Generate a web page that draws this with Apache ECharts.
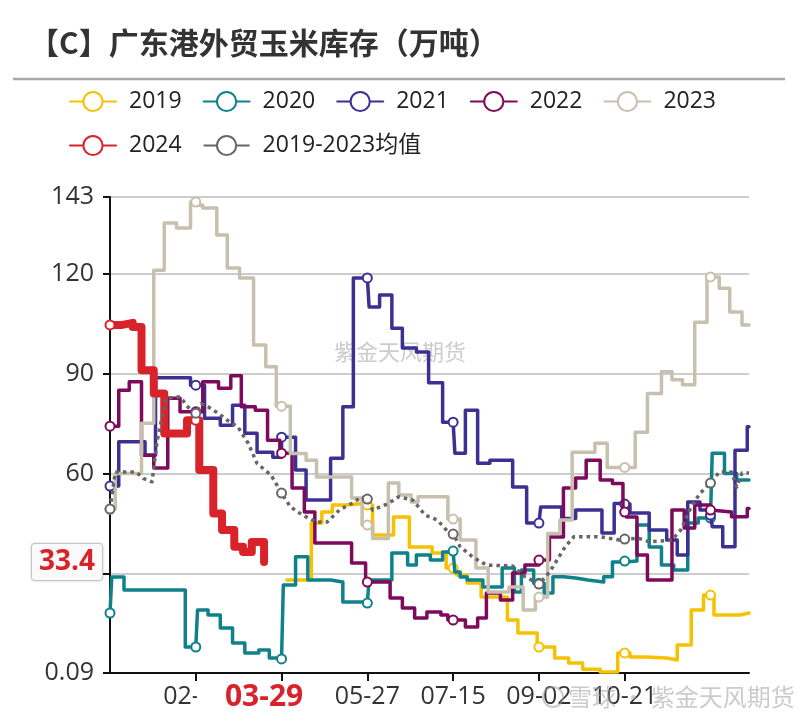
<!DOCTYPE html>
<html><head><meta charset="utf-8">
<script src="https://cdn.jsdelivr.net/npm/echarts@6/dist/echarts.min.js"></script>
<style>html,body{margin:0;padding:0;background:#fff}#c{width:800px;height:722px}</style>
</head><body><div id="c"></div>
<script>
// ---- data (day index of leap year 2024, value in 万吨); step change points ----
const yTicks = [0.09, 30, 60, 90, 120, 143];
const labelDays = [49, 98, 147, 196, 245, 294];
const markerEvery = 49;

const s2019 = [[101,28],[115,45.1],[121,48.4],[127,50.5],[135,51.1],[147,50.5],[150,41.5],[162,46.9],[171,37.9],[184,36.1],[192,31.6],[196,31.6],[198,29.5],[204,27.1],[212,22.9],[227,16],[233,12.1],[244,7.9],[245,7.9],[254,4.6],[262,3.1],[270,1.2],[280,0.4],[290,6.1],[294,6.1],[297,4.9],[306,4.6],[318,4],[324,8.5],[332,19],[339,23.5],[343,23.5],[345,17.5],[360,18.1],[365,18.1]];
const s2020 = [[0,18.1],[1,28.9],[8,25],[43,7.9],[49,7.9],[50,19],[56,17.5],[63,13.6],[70,9.1],[77,6.1],[85,7],[91,4.6],[98,4.3],[99,26.5],[106,35],[113,28],[126,27.4],[133,21.4],[147,21.1],[148,28],[161,36.1],[170,32.5],[175,35.5],[183,34],[190,36.4],[196,36.7],[197,30.4],[200,28.9],[204,28],[213,25.9],[224,31.6],[231,24.4],[235,31],[242,27],[245,27],[248,24.1],[253,29],[259,28.6],[266,28],[273,27.4],[282,29],[287,33.4],[294,33.7],[301,44.5],[308,37.9],[315,32.5],[322,31],[330,45.1],[336,46.6],[343,46.6],[344,66.1],[351,60],[358,58],[365,58]];
const s2021 = [[0,56.2],[5,69.5],[20,65.5],[26,88.7],[46,86.5],[49,86.5],[54,76.6],[63,74.5],[70,80.5],[77,72.1],[84,66.4],[93,64.9],[98,70.9],[106,61],[112,52],[126,64.6],[133,80],[139,118.7],[147,118.7],[148,110],[154,113.6],[161,103.6],[167,97.7],[175,96.5],[182,87.2],[190,75.4],[196,75.4],[197,66.1],[203,79],[210,63.1],[217,64],[230,55.9],[238,45.1],[245,45.1],[246,49.9],[258,46.5],[266,49],[281,42.1],[288,51],[294,50.8],[297,48.1],[308,43],[318,40],[324,35.5],[330,51.4],[337,49],[343,47.5],[344,44],[350,38],[357,67],[364,74],[365,74]];
const s2022 = [[0,74.2],[5,85],[11,87.5],[18,65.5],[25,61.6],[33,82.6],[40,78.5],[49,78.5],[53,87.5],[62,85.6],[69,89.3],[75,80],[83,79],[90,70],[97,66.1],[98,66.1],[104,55.6],[111,48.4],[117,39.1],[138,33.1],[146,27.4],[147,27.4],[160,22.6],[167,19.6],[174,16.6],[181,18.4],[189,17.5],[193,16],[196,16],[203,13.9],[210,16.6],[215,24.1],[223,22],[230,30.1],[237,32.5],[245,34],[251,40.9],[259,55.6],[266,58.6],[272,64],[280,58],[287,57],[293,48.4],[294,48.4],[295,46.9],[301,35.5],[307,28],[321,49],[328,43.6],[334,50.5],[343,49],[344,48.4],[355,47],[364,49.5],[365,49.5]];
const s2023 = [[0,49.3],[3,60],[18,75.1],[25,121],[31,135.2],[38,133.7],[46,141.5],[49,141.5],[51,140.5],[53,139.7],[61,131.6],[67,121.7],[74,118.7],[82,98.6],[89,92],[95,80.2],[98,80.2],[103,66],[112,64],[118,58.9],[138,52.6],[144,44.5],[147,44.5],[150,40.5],[159,57.1],[165,53.5],[172,51.4],[176,53],[193,46.3],[196,46.3],[200,40],[209,31.6],[216,24.4],[228,25.9],[236,19],[243,22.9],[245,22.9],[250,42],[257,46],[264,66.4],[277,69.1],[284,61.8],[294,61.8],[300,72.4],[307,84],[315,90.5],[321,88.1],[327,86.6],[334,105.4],[341,119],[343,119],[348,115.6],[354,108.5],[361,104.6],[365,104.6]];
const s2024 = [[0,104.6],[7,105.2],[13,104],[18,91],[25,84],[31,72],[44,76],[49,76],[51,61],[59,48],[64,43],[71,38],[76,36.4],[81,39.4],[88,33.4]];
const sAvg = [[0,49.3],[3,60.4],[15,60.4],[19,58.5],[24,57.5],[27,70],[32,82.6],[40,83],[46,79],[49,78.1],[52,81],[56,80],[62,78],[67,76],[73,74],[79,69],[84,63],[92,59.5],[98,54.1],[103,50],[110,47.5],[118,45.4],[124,45.4],[131,49],[138,51],[144,53],[147,52.3],[150,49],[159,51],[165,53],[173,52],[180,47.5],[187,46],[193,42.5],[196,41.8],[200,38],[207,35],[215,32.5],[230,32.2],[237,29],[245,26.8],[249,29],[253,32],[260,38],[265,41],[280,41],[291,40],[294,40.3],[302,40.5],[308,39.5],[321,40],[326,43],[332,50],[337,54],[343,57.1],[348,60.4],[355,60.4],[358,55.9],[361,60.1],[365,60.1]];

const seriesNames = ['2019','2020','2021','2022','2023','2024','2019-2023均值'];
const seriesColors = ['#F5C100','#0F8189','#3B3192','#7D0A5C','#C8C0AE','#D9232B','#666666'];
const seriesData = [s2019, s2020, s2021, s2022, s2023, s2024, sAvg];
const latestDay = 88;
const latestValue = 33.4;

// categories: every day of (leap) year as MM-DD
const categories = [];
(function(){
  const mdays = [31,29,31,30,31,30,31,31,30,31,30,31];
  for (let m = 0; m < 12; m++) for (let d = 1; d <= mdays[m]; d++)
    categories.push(String(m+1).padStart(2,'0') + '-' + String(d).padStart(2,'0'));
})();

const FONT = "'Open Sans','Noto Sans CJK SC',sans-serif";
const chart = echarts.init(document.getElementById('c'), null, {renderer:'canvas'});
const showIdx = (idx) => labelDays.indexOf(idx) >= 0;

const series = seriesData.map((d, i) => {
  const isAvg = i === 6, isNow = i === 5;
  return {
    name: seriesNames[i], type: 'line', data: d,
    step: isAvg ? false : 'end',
    symbol: 'emptyCircle', showAllSymbol: true,
    symbolSize: (v) => (v[0] % markerEvery === 0 ? 9 : 0),
    itemStyle: {color: seriesColors[i], borderWidth: 1.8},
    lineStyle: {color: seriesColors[i], width: isNow ? 8 : (isAvg ? 3.5 : 3.5),
      type: isAvg ? [3.5, 4] : 'solid', join: 'round', cap: isAvg ? 'butt' : 'round'},
    z: 2 + i, animation: false, silent: true
  };
});

chart.setOption({
  animation: false,
  backgroundColor: '#fff',
  title: {text: '【C】广东港外贸玉米库存（万吨）', left: 24, top: 23,
    textStyle: {fontFamily: "'Noto Sans CJK SC',sans-serif", fontSize: 30, fontWeight: 'bold', color: '#333'}},
  legend: {left: 64, top: 85, width: 720, itemWidth: 46, itemHeight: 24, itemGap: 21,
    textStyle: {fontFamily: FONT, fontSize: 23, color: '#222', padding: [0,0,0,8]},
    lineStyle: {width: 2, type: 'solid'}},
  grid: {left: 110, right: 51, top: 197, bottom: 49},
  xAxis: {type: 'category', data: categories, boundaryGap: false,
    axisLine: {lineStyle: {color: '#111', width: 2}},
    axisTick: {interval: (idx) => showIdx(idx), length: 8, lineStyle: {color: '#111', width: 2}},
    axisLabel: {interval: (idx) => showIdx(idx), fontFamily: FONT, fontSize: 25, color: '#333', margin: 11},
    splitLine: {show: false},
    axisPointer: {show: true, status: 'show', value: latestDay, type: 'line', triggerTooltip: false,
      lineStyle: {opacity: 0},
      label: {show: true, fontFamily: FONT, fontSize: 30, fontWeight: 'bold', color: '#D9232B',
        backgroundColor: '#fff', padding: [0, 28, 0, 28], margin: 9}}
  },
  yAxis: {type: 'value', min: 0.09, max: 143,
    axisLine: {show: true, lineStyle: {color: '#111', width: 2}},
    axisTick: {show: true, length: 7, customValues: yTicks, lineStyle: {color: '#111', width: 2}},
    axisLabel: {customValues: yTicks, fontFamily: FONT, fontSize: 25, color: '#333', margin: 16,
      formatter: (v) => String(v)},
    splitLine: {show: true, lineStyle: {color: '#bdbdbd', width: 1.5}},
    axisPointer: {show: true, status: 'show', value: latestValue, type: 'line', triggerTooltip: false,
      lineStyle: {opacity: 0},
      label: {show: true, precision: 1, fontFamily: FONT, fontSize: 28, fontWeight: 'bold', color: '#D9232B',
        backgroundColor: '#fafafa', borderColor: '#d0d0d0', borderWidth: 1, padding: [4, 7, 4, 7], margin: 8,
        shadowBlur: 3, shadowColor: 'rgba(0,0,0,0.15)'}}
  },
  graphic: [
    {type: 'line', z: 10, shape: {x1: 13, y1: 79, x2: 785, y2: 79}, style: {stroke: '#a8a8a8', lineWidth: 2.5}},
    {type: 'text', z: 1, x: 400, y: 352, style: {text: '紫金天风期货', fill: 'rgba(170,170,170,0.6)',
      font: "22px 'Noto Sans CJK SC'", textAlign: 'center', textVerticalAlign: 'middle'}},
    {type: 'circle', z: 100, shape: {cx: 553, cy: 697, r: 10}, style: {fill: 'none', stroke: 'rgba(160,160,160,0.55)', lineWidth: 2}},
    {type: 'text', z: 100, x: 568, y: 697, style: {text: '雪球 · 紫金天风期货', fill: 'rgba(160,160,160,0.55)',
      font: "24px 'Noto Sans CJK SC'", textAlign: 'left', textVerticalAlign: 'middle'}}
  ],
  series: series
});
</script></body></html>
